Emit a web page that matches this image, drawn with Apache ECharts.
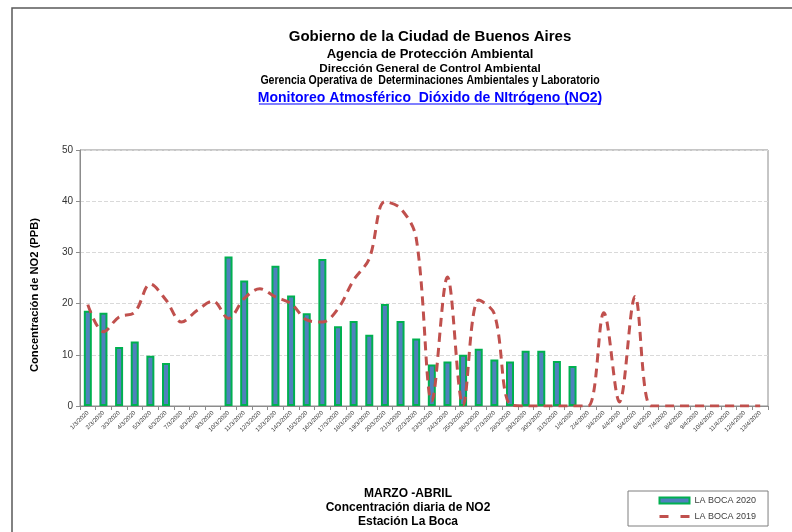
<!DOCTYPE html>
<html>
<head>
<meta charset="utf-8">
<script src="https://cdn.jsdelivr.net/npm/echarts@6/dist/echarts.min.js"></script>
<style>
  html, body { margin: 0; padding: 0; background: #fff; }
  #chart { width: 792px; height: 532px; }
</style>
</head>
<body>
<div id="chart"></div>
<script>
// Days of March and April 2020
const categories = [
  '1/3/2020', '2/3/2020', '3/3/2020', '4/3/2020', '5/3/2020', '6/3/2020', '7/3/2020', '8/3/2020',
  '9/3/2020', '10/3/2020', '11/3/2020', '12/3/2020', '13/3/2020', '14/3/2020', '15/3/2020', '16/3/2020',
  '17/3/2020', '18/3/2020', '19/3/2020', '20/3/2020', '21/3/2020', '22/3/2020', '23/3/2020', '24/3/2020',
  '25/3/2020', '26/3/2020', '27/3/2020', '28/3/2020', '29/3/2020', '30/3/2020', '31/3/2020', '1/4/2020',
  '2/4/2020', '3/4/2020', '4/4/2020', '5/4/2020', '6/4/2020', '7/4/2020', '8/4/2020', '9/4/2020',
  '10/4/2020', '11/4/2020', '12/4/2020', '13/4/2020'
];

// LA BOCA 2020 (bars), null = no data
const boca2020 = [
  18.6, 18.2, 11.5, 12.6, 9.8, 8.4, null, null,
  null, 29.2, 24.5, null, 27.4, 21.6, 18.1, 28.7,
  15.6, 16.6, 13.9, 19.9, 16.6, 13.2, 8.1, 8.7,
  10.0, 11.2, 9.1, 8.7, 10.8, 10.8, 8.8, 7.8,
  null, null, null, null, null, null, null, null,
  null, null, null, null
];

// LA BOCA 2019 (dashed line)
const boca2019 = [
  19.8, 14.5, 17.4, 18.3, 23.8, 20.7, 16.4, 18.7,
  20.5, 17.1, 21.0, 22.9, 21.3, 20.0, 16.8, 16.4,
  19.0, 24.6, 28.8, 39.9, 38.6, 32.8, 1.0, 25.2,
  0.2, 20.7, 18.0, 0.3, 0, 0, 0, 0,
  0, 18.2, 0.8, 21.4, 0, 0, 0, 0,
  0, 0, 0, 0
];

const yTicks = { min: 0, max: 50, interval: 10 };

const chart = echarts.init(document.getElementById('chart'));

const font = 'Liberation Sans, Arial, sans-serif';

const option = {
  backgroundColor: '#ffffff',
  animation: false,
  title: [
    { text: 'Gobierno de la Ciudad de Buenos Aires', left: 425, top: 24, textAlign: 'center',
      textStyle: { fontFamily: font, fontSize: 15, fontWeight: 'bold', color: '#000' } },
    { text: 'Agencia de Protección Ambiental', left: 425, top: 43, textAlign: 'center',
      textStyle: { fontFamily: font, fontSize: 13, fontWeight: 'bold', color: '#000' } },
    { text: 'Dirección General de Control Ambiental', left: 425, top: 58, textAlign: 'center',
      textStyle: { fontFamily: font, fontSize: 11.7, fontWeight: 'bold', color: '#000' } },
    { text: 'Monitoreo Atmosférico  Dióxido de NItrógeno (NO2)', left: 425, top: 86, textAlign: 'center',
      textStyle: { fontFamily: font, fontSize: 14, fontWeight: 'bold', color: '#0000ff' } },
    { text: 'MARZO -ABRIL\nConcentración diaria de NO2\nEstación La Boca', left: 403, top: 482, textAlign: 'center',
      textStyle: { fontFamily: font, fontSize: 12, fontWeight: 'bold', color: '#000', lineHeight: 14 } }
  ],
  graphic: [
    // outer frame
    { type: 'polyline', shape: { points: [[12, 532], [12, 8], [792, 8]] },
      style: { stroke: '#595959', lineWidth: 1.5, fill: null } },
    // condensed fourth title line
    { type: 'text', x: 430, y: 81, scaleX: 0.88,
      style: { text: 'Gerencia Operativa de  Determinaciones Ambientales y Laboratorio', fontFamily: font,
        fontSize: 12, fontWeight: 'bold', fill: '#000', align: 'center', verticalAlign: 'middle' } },
    // underline of the blue subtitle
    { type: 'line', shape: { x1: 259, y1: 104, x2: 601, y2: 104 },
      style: { stroke: '#0000ff', lineWidth: 1.2 } },
    // y axis title
    { type: 'text', x: 35, y: 295, rotation: Math.PI / 2,
      style: { text: 'Concentración de NO2 (PPB)', fontFamily: font, fontSize: 11.2, fontWeight: 'bold',
        fill: '#000', align: 'center', verticalAlign: 'middle' } }
  ],
  legend: {
    orient: 'vertical',
    left: 628,
    top: 491,
    padding: [5, 12, 5, 30],
    itemGap: 7,
    itemWidth: 30,
    itemHeight: 6,
    borderColor: '#7f7f7f',
    borderWidth: 1,
    textStyle: { fontFamily: font, fontSize: 9, color: '#404040' },
    data: [
      { name: 'LA BOCA 2020', icon: 'rect' },
      { name: 'LA BOCA 2019', itemStyle: { color: 'rgba(0,0,0,0)', borderWidth: 0 },
        lineStyle: { color: '#c0504d', width: 3, type: [9, 12] } }
    ]
  },
  grid: {
    left: 80,
    right: 24,
    top: 150,
    bottom: 126,
    show: true,
    borderColor: '#8c8c8c',
    borderWidth: 1
  },
  xAxis: {
    type: 'category',
    data: categories,
    boundaryGap: true,
    axisLine: { lineStyle: { color: '#8c8c8c' } },
    axisTick: { show: true, lineStyle: { color: '#8c8c8c' }, length: 4 },
    axisLabel: { interval: 0, rotate: 45, fontSize: 6, color: '#333', fontFamily: font, margin: 6 }
  },
  yAxis: {
    type: 'value',
    min: yTicks.min,
    max: yTicks.max,
    interval: yTicks.interval,
    axisLine: { show: true, lineStyle: { color: '#8c8c8c' } },
    axisTick: { show: true, lineStyle: { color: '#8c8c8c' }, length: 4 },
    axisLabel: { fontSize: 10, color: '#333', fontFamily: font, margin: 7 },
    splitLine: { lineStyle: { color: '#d9d9d9', type: 'dashed' } }
  },
  series: [
    {
      name: 'LA BOCA 2020',
      type: 'bar',
      data: boca2020,
      barWidth: 8,
      itemStyle: { color: '#4f81bd', borderColor: '#00b050', borderWidth: 2 }
    },
    {
      name: 'LA BOCA 2019',
      type: 'line',
      data: boca2019,
      smooth: 0.35,
      symbol: 'none',
      lineStyle: { color: '#c0504d', width: 3, type: [9, 6] },
      itemStyle: { color: '#c0504d' }
    }
  ]
};

chart.setOption(option);
</script>
</body>
</html>
